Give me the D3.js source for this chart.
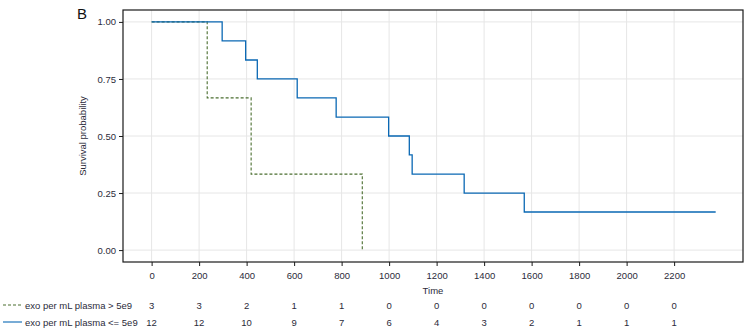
<!DOCTYPE html>
<html><head><meta charset="utf-8">
<script src="https://cdn.jsdelivr.net/npm/d3@7"></script>
<style>body{margin:0;background:#fff;} text{font-family:"Liberation Sans",Arial,sans-serif;}</style>
</head><body><svg id="c" width="751" height="333"></svg>
<script>
const seriesNames = ["exo per mL plasma > 5e9", "exo per mL plasma <= 5e9"];
const highTimes = [0, 234, 419, 887];
const highSurv  = [1.0, 0.667, 0.333, 0.0];
const lowTimes = [0, 297, 396, 445, 613, 777, 998, 1085, 1097, 1316, 1569, 2375];
const lowSurv  = [1.0, 0.917, 0.833, 0.75, 0.667, 0.583, 0.5, 0.417, 0.333, 0.25, 0.167, 0.167];
const xTicks = [0,200,400,600,800,1000,1200,1400,1600,1800,2000,2200];
const yTicks = [0, 0.25, 0.5, 0.75, 1.0];
const riskHigh = [3,3,2,1,1,0,0,0,0,0,0,0];
const riskLow  = [12,12,10,9,7,6,4,3,2,1,1,1];

const svg = d3.select("#c");
const L=123, R=743, T=10, B=262;
const x = d3.scaleLinear().domain([-120.5, 2490]).range([L, R]);
const y = d3.scaleLinear().domain([-0.0522, 1.0522]).range([B, T]);
const fs = 9.5, tc = "#2b2b3a";

// grid
const g = svg.append("g");
g.selectAll(".gx").data(xTicks).enter().append("line")
  .attr("x1", d=>x(d)).attr("x2", d=>x(d)).attr("y1", T).attr("y2", B)
  .attr("stroke", "#e6e6e6").attr("stroke-width", 1);
g.selectAll(".gy").data(yTicks).enter().append("line")
  .attr("y1", d=>y(d)).attr("y2", d=>y(d)).attr("x1", L).attr("x2", R)
  .attr("stroke", "#e6e6e6").attr("stroke-width", 1);

// curves
const line = d3.line().x(d=>x(d[0])).y(d=>y(d[1])).curve(d3.curveStepAfter);
svg.append("path").datum(highTimes.map((t,i)=>[t, highSurv[i]]))
  .attr("d", line).attr("fill","none").attr("stroke","#4a6e2f").attr("stroke-width",1.1)
  .attr("stroke-dasharray","3,2");
svg.append("path").datum(lowTimes.map((t,i)=>[t, lowSurv[i]]))
  .attr("d", line).attr("fill","none").attr("stroke","#0a68b4").attr("stroke-width",1.3);

// panel border
svg.append("rect").attr("x", L).attr("y", T).attr("width", R-L).attr("height", B-T)
  .attr("fill","none").attr("stroke","#1a1a1a").attr("stroke-width",1.2);

// axes
const xa = svg.append("g").attr("transform", `translate(0,${B})`)
  .call(d3.axisBottom(x).tickValues(xTicks).tickSize(4).tickPadding(6).tickFormat(d3.format("d")));
const ya = svg.append("g").attr("transform", `translate(${L},0)`)
  .call(d3.axisLeft(y).tickValues(yTicks).tickSize(4).tickPadding(3).tickFormat(d3.format(".2f")));
[xa, ya].forEach(a=>{
  a.select(".domain").remove();
  a.selectAll(".tick line").attr("stroke","#1a1a1a");
  a.selectAll("text").attr("font-size", fs).attr("fill", tc).attr("font-family","Liberation Sans, Arial, sans-serif");
});

// titles
svg.append("text").attr("x", (L+R)/2).attr("y", 294).attr("text-anchor","middle")
  .attr("font-size", fs).attr("fill", tc).text("Time");
svg.append("text").attr("transform", `translate(86,${(T+B)/2}) rotate(-90)`).attr("text-anchor","middle")
  .attr("font-size", fs).attr("fill", tc).text("Survival probability");
svg.append("text").attr("x", 77).attr("y", 19).attr("font-size", 15).attr("fill","#111").text("B");

// risk table
const rows = [
  {name: seriesNames[0], vals: riskHigh, color:"#4a6e2f", dash:"3,2", yy:305},
  {name: seriesNames[1], vals: riskLow,  color:"#0a68b4", dash:null, yy:322}
];
rows.forEach(r=>{
  svg.append("line").attr("x1",3).attr("x2",22).attr("y1",r.yy).attr("y2",r.yy)
    .attr("stroke",r.color).attr("stroke-width",1.1).attr("stroke-dasharray",r.dash);
  svg.append("text").attr("x",25).attr("y",r.yy+3.5).attr("font-size",fs).attr("fill",tc).text(r.name);
  svg.selectAll(null).data(r.vals).enter().append("text")
    .attr("x",(d,i)=>x(xTicks[i])).attr("y",r.yy+3.5).attr("text-anchor","middle")
    .attr("font-size",fs).attr("fill",tc).text(d=>d);
});
</script></body></html>
